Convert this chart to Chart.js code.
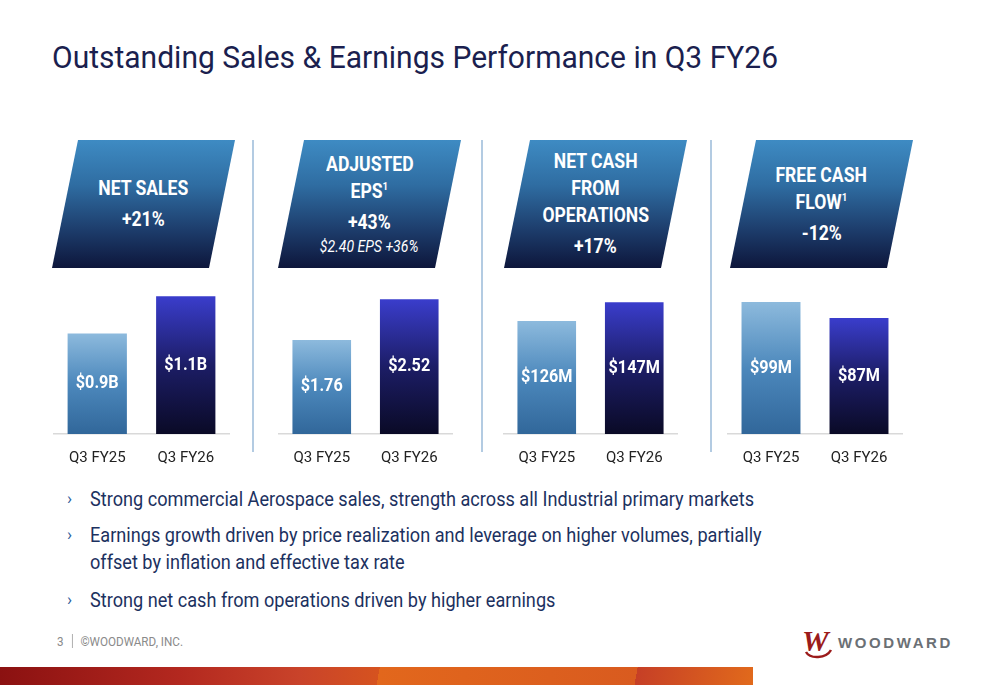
<!DOCTYPE html>
<html>
<head>
<meta charset="utf-8">
<script src="https://cdn.jsdelivr.net/npm/chart.js@4.4.1/dist/chart.umd.min.js"></script>
<style>
	body { margin: 0; width: 1000px; height: 685px; overflow: hidden; background: #fff; position: relative; font-family: Roboto, "Liberation Sans", sans-serif; }
	.fit { transform-origin: 0 0; }
	.title { position: absolute; left: 52px; top: 37px; font-size: 32px; line-height: 40px; color: #1b1f4f; white-space: nowrap; }
	.hdr { position: absolute; top: 140px; width: 183px; height: 128px; clip-path: polygon(26px 0, 183px 0, 157px 128px, 0 128px);
		background: linear-gradient(180deg, #3e8bc3 0%, #2f6da2 35%, #1d3d6c 70%, #0d163b 100%);
		display: flex; flex-direction: column; justify-content: center; align-items: center;
		color: #fff; font-weight: bold; font-size: 20px; line-height: 27px; text-align: center; }
	.hdr div { white-space: nowrap; }
	.hdr .pct { margin-top: 4px; }
	.hdr .note { font-weight: normal; font-style: italic; font-size: 16px; line-height: 22px; }
	.hdr sup { font-size: 11px; line-height: 0; vertical-align: 8px; }
	.sep { position: absolute; top: 140px; height: 312px; width: 2px; background: #b3cbe2; }
	canvas { position: absolute; }
	.mk { position: absolute; left: 67px; color: #2d5a9a; font-size: 17px; line-height: 27px; }
	.bl { position: absolute; left: 90px; font-size: 20px; line-height: 27px; color: #1c3160; white-space: nowrap; }
	.foot { position: absolute; left: 57px; top: 634px; font-size: 12.5px; color: #8a8a8a; white-space: nowrap; }
	.foot .bar { display: inline-block; width: 1px; height: 14px; background: #aaa; vertical-align: -2px; margin: 0 8px 0 9px; }
	.logo { position: absolute; left: 800px; top: 626px; }
	.strip { position: absolute; left: 0; top: 667px; width: 753px; height: 18px;
		background:
			linear-gradient(100deg, transparent 0, transparent 628px, #c63f26 628px, #e36d1b 753px),
			linear-gradient(100deg, transparent 0, transparent 374px, #e2671c 374px, #d95b1f 628px),
			linear-gradient(90deg, #8b1111 0, #b3281f 180px, #c9432a 300px, #d6531f 380px); }
</style>
</head>
<body>
<div class="title fit" id="title">Outstanding Sales &amp; Earnings Performance in Q3 FY26</div>

<div class="hdr" style="left:52px"><div id="hdrRef">NET SALES</div><div class="pct">+21%</div></div>
<div class="hdr" style="left:278px"><div>ADJUSTED</div><div>EPS<sup>1</sup></div><div class="pct">+43%</div><div class="note">$2.40 EPS +36%</div></div>
<div class="hdr" style="left:504px"><div>NET CASH</div><div>FROM</div><div>OPERATIONS</div><div class="pct">+17%</div></div>
<div class="hdr" style="left:730px"><div>FREE CASH</div><div>FLOW<sup>1</sup></div><div class="pct">-12%</div></div>

<div class="sep" style="left:252px"></div>
<div class="sep" style="left:481px"></div>
<div class="sep" style="left:710px"></div>

<canvas id="c1" width="177" height="202" style="left:53px;top:280px"></canvas>
<canvas id="c2" width="175" height="202" style="left:278px;top:280px"></canvas>
<canvas id="c3" width="175" height="202" style="left:503px;top:280px"></canvas>
<canvas id="c4" width="176" height="202" style="left:727px;top:280px"></canvas>

<div class="mk" style="top:485px">›</div>
<div class="bl fit" id="bullet1" style="top:486px">Strong commercial Aerospace sales, strength across all Industrial primary markets</div>
<div class="mk" style="top:521px">›</div>
<div class="bl fit" style="top:522px">Earnings growth driven by price realization and leverage on higher volumes, partially<br>offset by inflation and effective tax rate</div>
<div class="mk" style="top:586px">›</div>
<div class="bl fit" style="top:587px">Strong net cash from operations driven by higher earnings</div>

<div class="foot fit" id="foot">3<span class="bar"></span>©WOODWARD, INC.</div>
<svg class="logo" width="160" height="34" viewBox="0 0 160 34">
	<text x="2" y="25" font-family="Liberation Serif" font-style="italic" font-weight="bold" font-size="30" fill="#9b1b1b">W</text>
	<path d="M6 26 C 10 33, 26 33, 31 24" stroke="#9b1b1b" stroke-width="2.5" fill="none"/>
	<text x="38" y="22" font-family="Liberation Sans" font-weight="bold" font-size="15" letter-spacing="2.6" fill="#6b7075">WOODWARD</text>
</svg>

<div class="strip"></div>

<script>
const categories = ['Q3 FY25', 'Q3 FY26'];

const netSales = [0.9, 1.1];
const netSalesLabels = ['$0.9B', '$1.1B'];

const adjustedEps = [1.76, 2.52];
const adjustedEpsLabels = ['$1.76', '$2.52'];

const netCashOps = [126, 147];
const netCashOpsLabels = ['$126M', '$147M'];

const freeCashFlow = [99, 87];
const freeCashFlowLabels = ['$99M', '$87M'];

// prior year bar light blue, current year bar violet -> navy
const barStops = [
	['#8dbadd', '#4c88bc', '#31679a'],
	['#3a3dcc', '#1c1d66', '#0a0a26']
];

// the slide font is a condensed sans, squeeze ours to the same widths
const squeeze = (el, ratio) => { el.style.transform = `scaleX(${ratio})`; };
const widthOf = el => el.getBoundingClientRect().width;

squeeze(document.getElementById('title'), 726 / widthOf(document.getElementById('title')));
const bulletRatio = 664 / widthOf(document.getElementById('bullet1'));
document.querySelectorAll('.bl').forEach(el => squeeze(el, bulletRatio));
squeeze(document.getElementById('foot'), 126 / widthOf(document.getElementById('foot')));
const hdrRatio = 90 / widthOf(document.getElementById('hdrRef'));
document.querySelectorAll('.hdr div').forEach(el => squeeze(el, hdrRatio));

Chart.defaults.font.family = "Roboto, 'Liberation Sans', sans-serif";

const barFill = ctx => {
	const chart = ctx.chart;
	const stops = barStops[ctx.dataIndex];
	if (!chart.chartArea) return stops[1];
	const y = chart.scales.y;
	const top = y.getPixelForValue(ctx.dataset.data[ctx.dataIndex]);
	const bottom = y.getPixelForValue(y.min);
	const g = chart.ctx.createLinearGradient(0, top, 0, bottom);
	g.addColorStop(0, stops[0]);
	g.addColorStop(0.5, stops[1]);
	g.addColorStop(1, stops[2]);
	return g;
};

const valueLabels = {
	id: 'valueLabels',
	afterDatasetsDraw(chart, args, opts) {
		const ctx = chart.ctx;
		const bottom = chart.chartArea.bottom;
		ctx.save();
		ctx.font = "bold 18px Roboto, 'Liberation Sans', sans-serif";
		ctx.fillStyle = '#ffffff';
		ctx.textAlign = 'center';
		ctx.textBaseline = 'middle';
		chart.getDatasetMeta(0).data.forEach((bar, i) => {
			const base = Math.min(bar.base, bottom);
			ctx.save();
			ctx.translate(bar.x, (bar.y + base) / 2);
			ctx.scale(0.9, 1);
			ctx.fillText(opts.texts[i], 0, 0);
			ctx.restore();
		});
		ctx.restore();
	}
};

const makeChart = (id, values, texts, yMin, yMax) => new Chart(document.getElementById(id), {
	type: 'bar',
	data: {
		labels: categories,
		datasets: [{
			data: values,
			backgroundColor: barFill,
			borderWidth: 0,
			categoryPercentage: 1,
			barPercentage: 0.67
		}]
	},
	options: {
		responsive: false,
		animation: false,
		layout: { padding: 0 },
		plugins: {
			legend: { display: false },
			tooltip: { enabled: false },
			valueLabels: { texts: texts }
		},
		scales: {
			x: {
				grid: { display: false, drawTicks: false },
				border: { display: true, color: '#d9d9d9', width: 1.5 },
				ticks: { color: '#222', padding: 15, font: { size: 15 } }
			},
			y: { display: false, min: yMin, max: yMax }
		}
	},
	plugins: [valueLabels]
});

makeChart('c1', netSales, netSalesLabels, 0.36, 1.187);
makeChart('c2', adjustedEps, adjustedEpsLabels, 0, 2.88);
makeChart('c3', netCashOps, netCashOpsLabels, 0, 171.7);
makeChart('c4', freeCashFlow, freeCashFlowLabels, 0, 115.6);
</script>
</body>
</html>
